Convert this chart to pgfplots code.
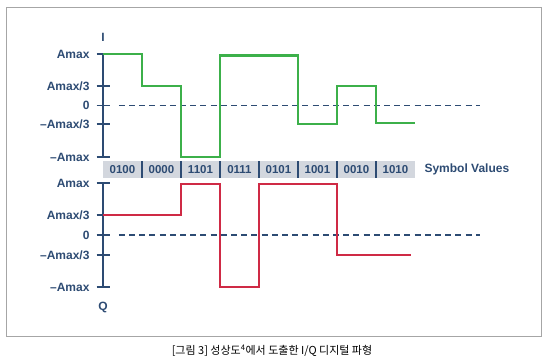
\documentclass[border=0pt]{standalone}
\usepackage{fontspec}
\setmainfont{Liberation Sans}
\newfontfamily\cjk{Noto Sans CJK KR}
\usepackage{pgfplots}
\pgfplotsset{compat=1.18}
\definecolor{navy}{HTML}{2D4B73}
\definecolor{igreen}{HTML}{3CB04A}
\definecolor{qred}{HTML}{CF2A45}
\definecolor{band}{HTML}{D3D7DE}
\definecolor{frame}{HTML}{A6A6A6}
\tikzset{
  sym/.style={text=navy, font=\fontsize{11.5}{13}\selectfont\bfseries},
  sep/.style={navy, line width=1.6pt},
}
\begin{document}
\begin{tikzpicture}[x=1pt,y=1pt]
\path[use as bounding box] (0,0) rectangle (551,363);
\draw[frame, line width=1pt] (6.5,355) rectangle (541,26);
\pgfplotsset{
  wave/.style={
    scale only axis, width=377pt, xmin=0, xmax=9.67, ymin=-1, ymax=1,
    clip=false, axis x line=none, axis y line*=left,
    y axis line style={navy, line width=2pt, -},
    ytick align=center, major tick length=13pt,
    ytick style={navy, line width=1.6pt},
    yticklabel style={font=\fontsize{12}{14}\selectfont\bfseries, text=navy, anchor=east, xshift=-3.5pt},
  },
}
% I axis
\begin{axis}[wave, at={(103pt,206pt)}, anchor=south west, height=103pt,
  ytick={-1,-0.36,0,0.38,1},
  yticklabels={\textendash Amax,\textendash Amax/3,0,Amax/3,Amax}]
\addplot[navy, line width=1.6pt, dash pattern=on 6pt off 4.2pt, dash phase=-1pt] coordinates {(0.38,0) (9.67,0)};
\addplot[igreen, line width=2.2pt, const plot] coordinates {
 (0,1) (1,0.38) (2,-1) (3,0.97) (5,-0.36) (6,0.38) (7,-0.34) (8,-0.34)};
\fill[band] (axis cs:0,-1.078) rectangle (axis cs:8,-1.408);
\draw[sep] (axis cs:1,-1.078) -- (axis cs:1,-1.408);
\draw[sep] (axis cs:2,-1.078) -- (axis cs:2,-1.408);
\draw[sep] (axis cs:3,-1.078) -- (axis cs:3,-1.408);
\draw[sep] (axis cs:4,-1.078) -- (axis cs:4,-1.408);
\draw[sep] (axis cs:5,-1.078) -- (axis cs:5,-1.408);
\draw[sep] (axis cs:6,-1.078) -- (axis cs:6,-1.408);
\draw[sep] (axis cs:7,-1.078) -- (axis cs:7,-1.408);
\node[sym] at (axis cs:0.5,-1.243) {0100};
\node[sym] at (axis cs:1.5,-1.243) {0000};
\node[sym] at (axis cs:2.5,-1.243) {1101};
\node[sym] at (axis cs:3.5,-1.243) {0111};
\node[sym] at (axis cs:4.5,-1.243) {0101};
\node[sym] at (axis cs:5.5,-1.243) {1001};
\node[sym] at (axis cs:6.5,-1.243) {0010};
\node[sym] at (axis cs:7.5,-1.243) {1010};
\end{axis}
% Q axis
\begin{axis}[wave, at={(103pt,76pt)}, anchor=south west, height=104pt,
  ytick={-1,-0.39,0,0.38,1},
  yticklabels={\textendash Amax,\textendash Amax/3,0,Amax/3,Amax}]
\addplot[navy, line width=1.6pt, dash pattern=on 6pt off 4.2pt, dash phase=-1pt] coordinates {(0.38,0) (9.67,0)};
\addplot[qred, line width=2.2pt, const plot] coordinates {
 (0,0.38) (2,0.98) (3,-1) (4,0.98) (6,-0.39) (7.9,-0.39)};
\end{axis}
\node[text=navy, font=\fontsize{12}{14}\selectfont\bfseries] at (103,326) {I};
\node[text=navy, font=\fontsize{12}{14}\selectfont\bfseries] at (103,56) {Q};
\node[text=navy, font=\fontsize{12}{14}\selectfont\bfseries, anchor=west] at (421,194) {Symbol Values};
\node[font=\fontsize{11}{13}\selectfont\cjk] at (272,12) {[그림 3] 성상도\textsuperscript{4}에서 도출한 I/Q 디지털 파형};
\end{tikzpicture}
\end{document}
